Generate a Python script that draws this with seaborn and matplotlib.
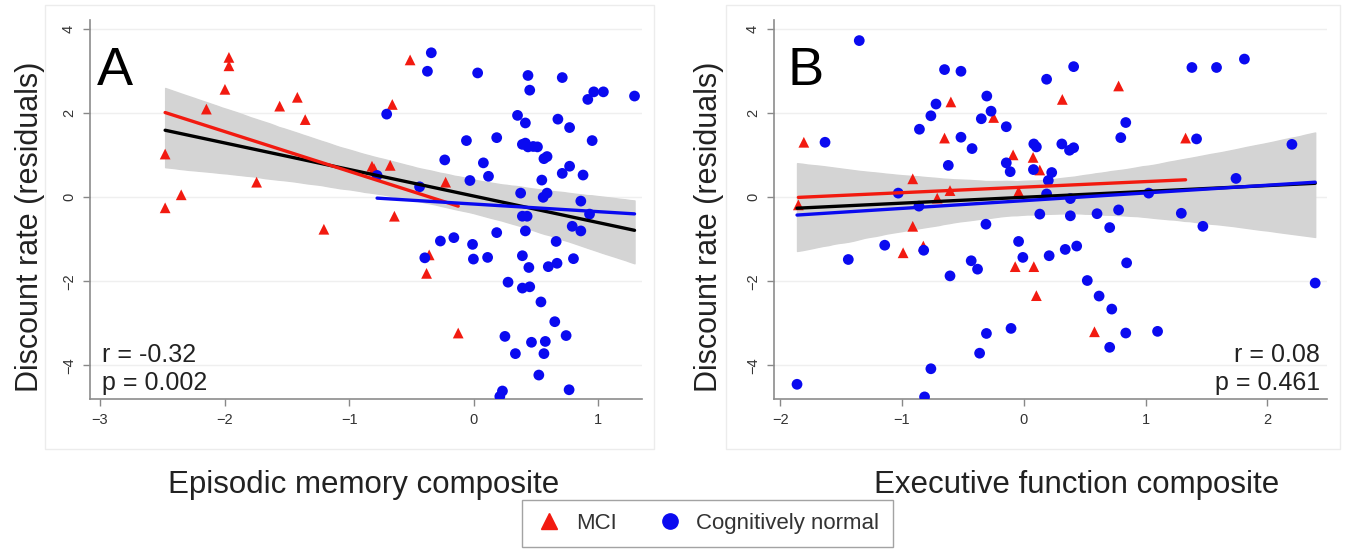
import numpy as np
import pandas as pd
import matplotlib
matplotlib.use("Agg")
import matplotlib.pyplot as plt
from matplotlib.lines import Line2D
from matplotlib.patches import Rectangle
import seaborn as sns

# ---- panel A: episodic memory composite ----
mem_mci_x = [-1.965, -1.965, -1.997, -2.146, -2.477, -2.477, -2.348, -1.743, -1.558, -1.416, -1.353,
             -1.203, -0.817, -0.800, -0.671, -0.654, -0.637, -0.511, -0.358, -0.379, -0.226, -0.125]
mem_mci_y = [3.33, 3.13, 2.57, 2.10, 1.03, -0.25, 0.06, 0.36, 2.17, 2.38, 1.85,
             -0.76, 0.74, 0.68, 0.76, 2.21, -0.45, 3.27, -1.37, -1.81, 0.36, -3.23]
mem_cn_x = [-0.341, -0.372, 0.031, 0.435, 0.710, 0.449, 0.915, 0.963, 1.040, 1.290,
            -0.699, 0.351, 0.414, 0.675, 0.769, -0.059, 0.184, 0.950, 0.390, 0.414,
            0.435, 0.477, 0.511, 0.563, 0.588, -0.233, 0.077, 0.118, -0.031, 0.546,
            0.769, 0.710, 0.877, -0.776, -0.435, 0.376, 0.588, 0.557, 0.859, 0.929,
            0.390, 0.428, 0.414, 0.184, 0.790, 0.859, -0.268, -0.160, -0.010, 0.661,
            -0.393, -0.003, 0.111, 0.390, 0.442, 0.598, 0.668, 0.800, 0.275, 0.390,
            0.449, 0.539, 0.650, 0.250, 0.741, 0.463, 0.574, 0.334, 0.563, 0.522,
            0.230, 0.209, 0.765]
mem_cn_y = [3.44, 3.00, 2.96, 2.90, 2.85, 2.55, 2.33, 2.51, 2.51, 2.41,
            1.98, 1.95, 1.77, 1.86, 1.66, 1.35, 1.42, 1.35, 1.26, 1.29,
            1.20, 1.21, 1.20, 0.92, 0.97, 0.89, 0.82, 0.50, 0.40, 0.41,
            0.74, 0.57, 0.53, 0.52, 0.25, 0.10, 0.10, 0.00, -0.09, -0.40,
            -0.45, -0.45, -0.80, -0.84, -0.69, -0.80, -1.04, -0.96, -1.12, -1.05,
            -1.44, -1.47, -1.43, -1.39, -1.67, -1.65, -1.57, -1.46, -2.02, -2.16,
            -2.13, -2.49, -2.96, -3.31, -3.29, -3.45, -3.43, -3.72, -3.72, -4.23,
            -4.61, -4.74, -4.58]

# ---- panel B: executive function composite ----
exe_mci_x = [-1.850, -1.805, -0.911, -0.911, -0.990, -0.824, -0.710, -0.605, -0.650, -0.598, -0.247,
             -0.087, -0.070, -0.042, 0.077, 0.132, 0.083, 0.104, 0.317, 0.581, 0.779, 1.329]
exe_mci_y = [-0.18, 1.31, 0.44, -0.69, -1.32, -1.16, -0.02, 0.16, 1.41, 2.27, 1.90,
             1.01, -1.65, 0.14, 0.95, 0.65, -1.65, -2.34, 2.33, -3.20, 2.65, 1.41]
exe_cn_x = [-1.350, -0.650, -0.515, 0.410, 0.188, 1.381, 1.583, 1.812, -0.720, -0.303,
            -0.268, -0.762, -0.348, 0.838, -0.856, -0.143, -1.631, -0.515, 0.797, 1.419,
            2.202, -0.424, 0.083, 0.104, 0.313, 0.376, 0.410, -0.619, -0.143, -0.111,
            0.080, 0.230, 0.202, -1.030, -0.860, 0.188, 0.383, 1.026, 1.743, 0.132,
            0.383, 0.602, 0.779, 1.294, 1.471, -0.310, 0.706, -1.141, -0.821, -0.042,
            0.341, 0.435, -0.007, 0.209, -1.440, -0.431, -0.379, 0.845, -0.605, 0.522,
            0.619, 0.723, 2.393, -0.104, -0.306, 0.838, 1.099, 0.706, -0.362, -0.762,
            -0.814, -1.861]
exe_cn_y = [3.73, 3.04, 3.00, 3.11, 2.81, 3.09, 3.09, 3.29, 2.22, 2.41,
            2.05, 1.94, 1.87, 1.78, 1.62, 1.68, 1.31, 1.43, 1.42, 1.39,
            1.26, 1.16, 1.27, 1.20, 1.27, 1.12, 1.18, 0.76, 0.82, 0.61,
            0.66, 0.59, 0.40, 0.10, -0.21, 0.08, -0.03, 0.10, 0.45, -0.40,
            -0.44, -0.39, -0.30, -0.38, -0.69, -0.64, -0.72, -1.14, -1.26, -1.05,
            -1.24, -1.16, -1.43, -1.39, -1.48, -1.51, -1.71, -1.56, -1.87, -1.98,
            -2.35, -2.66, -2.04, -3.12, -3.24, -3.23, -3.19, -3.57, -3.71, -4.08,
            -4.75, -4.45]

stats_a = ["r = -0.32", "p = 0.002"]
stats_b = ["r = 0.08", "p = 0.461"]

RED = "#f21a10"
BLUE = "#0a0af0"
W, H = 1345, 551

sns.set_theme(style="white")
plt.rcParams["font.family"] = ["Liberation Sans", "DejaVu Sans"]

fig = plt.figure(figsize=(13.45, 5.51), dpi=100)

# faint graph regions
for x0, x1 in [(45, 654), (726, 1340)]:
    fig.patches.append(Rectangle((x0 / W, 1 - 449 / H), (x1 - x0) / W, 444 / H,
                                 transform=fig.transFigure, fill=False,
                                 edgecolor="#ececec", lw=1.0, zorder=0))

panels = [
    dict(left=90, right=642, xlim=(-3.08, 1.35), xticks=[-3, -2, -1, 0, 1],
         mci=(mem_mci_x, mem_mci_y), cn=(mem_cn_x, mem_cn_y),
         xlabel="Episodic memory composite", xl_pos=364, yl_off=-45, letter="A", letter_x=97,
         stats=stats_a),
    dict(left=774, right=1327, xlim=(-2.05, 2.49), xticks=[-2, -1, 0, 1, 2],
         mci=(exe_mci_x, exe_mci_y), cn=(exe_cn_x, exe_cn_y),
         xlabel="Executive function composite", xl_pos=1077, yl_off=-50, letter="B", letter_x=788,
         stats=stats_b),
]

top, bottom = 20, 399
for p in panels:
    ax = fig.add_axes([p["left"] / W, 1 - bottom / H, (p["right"] - p["left"]) / W, (bottom - top) / H])
    mci = pd.DataFrame({"x": p["mci"][0], "y": p["mci"][1], "group": "MCI"})
    cn = pd.DataFrame({"x": p["cn"][0], "y": p["cn"][1], "group": "Cognitively normal"})
    df = pd.concat([mci, cn], ignore_index=True)

    for yv in [-4, -2, 0, 2, 4]:
        ax.axhline(yv, color="#efefef", lw=1.0, zorder=0)

    # overall fit with CI band
    sns.regplot(data=df, x="x", y="y", scatter=False, ci=95, n_boot=2000, seed=1,
                color="black", line_kws=dict(lw=2.4, zorder=4), ax=ax)
    ax.collections[-1].set_color("#d4d4d4")
    ax.collections[-1].set_alpha(1.0)
    ax.collections[-1].set_zorder(1)

    sns.scatterplot(data=df, x="x", y="y", hue="group", style="group",
                    markers={"MCI": "^", "Cognitively normal": "o"},
                    palette={"MCI": RED, "Cognitively normal": BLUE},
                    s=60, linewidth=0, legend=False, zorder=3, ax=ax)

    sns.regplot(data=mci, x="x", y="y", scatter=False, ci=None, color=RED,
                line_kws=dict(lw=2.4, zorder=5), ax=ax)
    sns.regplot(data=cn, x="x", y="y", scatter=False, ci=None, color=BLUE,
                line_kws=dict(lw=2.4, zorder=6), ax=ax)

    ax.set_xlim(*p["xlim"])
    ax.set_ylim(-4.8, 4.22)
    ax.set_xticks(p["xticks"])
    ax.set_yticks([-4, -2, 0, 2, 4])
    ax.tick_params(axis="both", length=5, width=1, color="#888888", labelsize=10.5,
                   labelcolor="#333333", pad=5, left=True, bottom=True)
    for lab in ax.get_yticklabels():
        lab.set_rotation(90)
        lab.set_va("center")
    for side in ["top", "right"]:
        ax.spines[side].set_visible(False)
    for side in ["left", "bottom"]:
        ax.spines[side].set_color("#8c8c8c")
        ax.spines[side].set_linewidth(1.2)
    ax.set_facecolor("none")

    width = p["right"] - p["left"]
    ax.set_ylabel("Discount rate (residuals)", fontsize=22, color="#222222")
    ax.yaxis.set_label_coords(p["yl_off"] / width, (bottom - 227) / (bottom - top))
    ax.set_xlabel(p["xlabel"], fontsize=22.5, color="#222222")
    ax.xaxis.set_label_coords((p["xl_pos"] - p["left"]) / width, -71 / (bottom - top))

    fig.text(p["letter_x"] / W, 1 - 85 / H, p["letter"], fontsize=39, color="black", va="baseline")
    if p["letter"] == "A":
        fig.text(102 / W, 1 - 362 / H, p["stats"][0], fontsize=18, color="#222222", va="baseline")
        fig.text(102 / W, 1 - 390 / H, p["stats"][1], fontsize=18, color="#222222", va="baseline")
    else:
        fig.text(1320 / W, 1 - 362 / H, p["stats"][0], fontsize=18, color="#222222", va="baseline", ha="right")
        fig.text(1320 / W, 1 - 390 / H, p["stats"][1], fontsize=18, color="#222222", va="baseline", ha="right")

handles = [Line2D([], [], ls="none", marker="^", color=RED, markersize=11, label="MCI"),
           Line2D([], [], ls="none", marker="o", color=BLUE, markersize=11, label="Cognitively normal")]
leg = fig.legend(handles=handles, loc="center", bbox_to_anchor=(707.5 / W, 1 - 523.5 / H),
                 ncol=2, fontsize=16, frameon=True, fancybox=False, edgecolor="#8c8c8c",
                 handletextpad=0.6, columnspacing=1.8, borderpad=0.6, handlelength=1.2)
leg.get_frame().set_linewidth(1.0)
for t in leg.get_texts():
    t.set_color("#333333")

fig.savefig("out.png", dpi=100)
